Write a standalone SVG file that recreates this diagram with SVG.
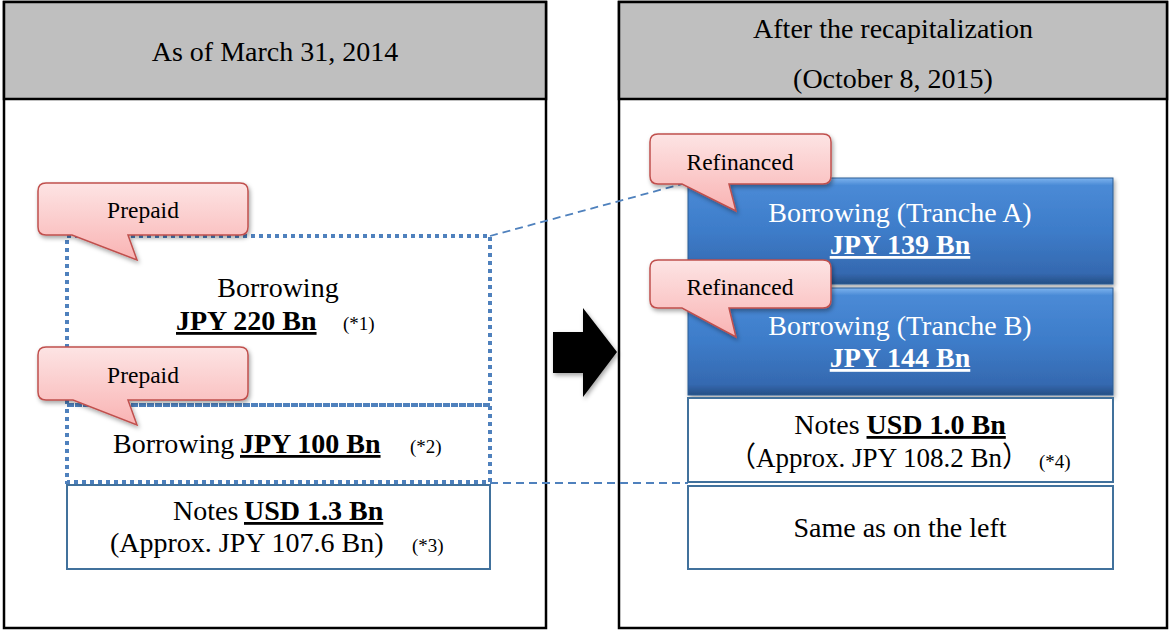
<svg xmlns="http://www.w3.org/2000/svg" width="1169" height="630" viewBox="0 0 1169 630">
<style>
.t{font-family:"Liberation Serif","Times New Roman",serif;font-size:28px;fill:#000}
.w{fill:#fff}
.b{font-weight:bold;text-decoration:underline}
.s{font-size:19px}
.c{font-family:"Liberation Serif","Times New Roman",serif;font-size:23.5px;fill:#000}
.panel{fill:#fff;stroke:#000;stroke-width:2.5}
.hdr{fill:#bfbfbf;stroke:#000;stroke-width:2.5}
.dot{fill:none;stroke:#4f81bd;stroke-width:4;stroke-dasharray:4 4}
.conn{fill:none;stroke:#4f81bd;stroke-width:1.8;stroke-dasharray:8 5}
.box{fill:#fff;stroke:#41719c;stroke-width:2}
.blue{fill:url(#bg);stroke:#2c5d93;stroke-width:1}
.call{fill:url(#pg);stroke:#c0504d;stroke-width:1.5;filter:url(#sh)}
</style>
<defs>
<linearGradient id="bg" x1="0" y1="0" x2="0" y2="1">
<stop offset="0" stop-color="#7db3ee"/>
<stop offset="0.07" stop-color="#4a8ad6"/>
<stop offset="0.5" stop-color="#3d7cc9"/>
<stop offset="0.9" stop-color="#3569b0"/>
<stop offset="1" stop-color="#254f85"/>
</linearGradient>
<linearGradient id="pg" x1="0" y1="0" x2="0" y2="1">
<stop offset="0" stop-color="#fde4e4"/>
<stop offset="1" stop-color="#f9b3b3"/>
</linearGradient>
<filter id="sh" x="-20%" y="-20%" width="140%" height="150%">
<feDropShadow dx="1.5" dy="2.5" stdDeviation="2" flood-color="#000" flood-opacity="0.35"/>
</filter>
</defs>

<g id="panel-left">
<rect class="panel" x="4" y="2" width="542" height="626"/>
<rect class="hdr" x="4" y="2" width="542" height="97"/>
<text class="t" x="275" y="61" text-anchor="middle">As of March 31, 2014</text>
</g>

<g id="panel-right">
<rect class="panel" x="619" y="2" width="548" height="626"/>
<rect class="hdr" x="619" y="2" width="548" height="97"/>
<text class="t" x="893" y="38" text-anchor="middle">After the recapitalization</text>
<text class="t" x="893" y="88" text-anchor="middle">(October 8, 2015)</text>
</g>

<g id="connectors">
<line class="conn" x1="490" y1="236" x2="682" y2="184"/>
<line class="conn" x1="490" y1="483" x2="688" y2="483"/>
</g>

<g id="borrowing-220">
<rect class="dot" x="67" y="236" width="423" height="169"/>
<text class="t" x="278" y="297" text-anchor="middle">Borrowing</text>
<text class="t b" x="176" y="330">JPY 220 Bn</text>
<text class="t s" x="343" y="330">(*1)</text>
</g>

<g id="borrowing-100">
<rect class="dot" x="67" y="405" width="423" height="77"/>
<text class="t" x="113" y="453">Borrowing</text>
<text class="t b" x="240" y="453">JPY 100 Bn</text>
<text class="t s" x="410" y="453">(*2)</text>
</g>

<g id="notes-left">
<rect class="box" x="67" y="485" width="423" height="84"/>
<text class="t" x="173" y="520">Notes</text>
<text class="t b" x="244" y="520">USD 1.3 Bn</text>
<text class="t" x="110" y="552">(Approx. JPY 107.6 Bn)</text>
<text class="t s" x="412" y="552">(*3)</text>
</g>

<g id="callout-prepaid-1">
<path class="call" d="M46,183 H240 Q248,183 248,191 V227 Q248,235 240,235 H128 L137,260 L72,235 H46 Q38,235 38,227 V191 Q38,183 46,183 Z"/>
<text class="c" x="143" y="218" text-anchor="middle">Prepaid</text>
</g>

<g id="callout-prepaid-2">
<path class="call" d="M46,347 H240 Q248,347 248,355 V392 Q248,400 240,400 H128 L137,425 L73,400 H46 Q38,400 38,392 V355 Q38,347 46,347 Z"/>
<text class="c" x="143" y="383" text-anchor="middle">Prepaid</text>
</g>

<g id="arrow">
<polygon points="553,332 583,332 583,308 617,352 583,397 583,373 553,373" fill="#000" filter="url(#sh)"/>
</g>

<g id="tranche-a">
<rect class="blue" x="688" y="178" width="425" height="106" filter="url(#sh)"/>
<text class="t w" x="900" y="222" text-anchor="middle">Borrowing (Tranche A)</text>
<text class="t w b" x="900" y="254" text-anchor="middle">JPY 139 Bn</text>
</g>

<g id="tranche-b">
<rect class="blue" x="688" y="288" width="425" height="107" filter="url(#sh)"/>
<text class="t w" x="900" y="335" text-anchor="middle">Borrowing (Tranche B)</text>
<text class="t w b" x="900" y="367" text-anchor="middle">JPY 144 Bn</text>
</g>

<g id="notes-right">
<rect class="box" x="688" y="398" width="425" height="84"/>
<text class="t" x="900" y="434" text-anchor="middle">Notes <tspan class="b">USD 1.0 Bn</tspan></text>
<text class="t" x="729" y="467" textLength="300" lengthAdjust="spacingAndGlyphs" style="font-family:'Liberation Serif','Noto Sans CJK JP',serif">（Approx. JPY 108.2 Bn）</text>
<text class="t s" x="1039" y="468">(*4)</text>
</g>

<g id="same-as-left">
<rect class="box" x="688" y="486" width="425" height="83"/>
<text class="t" x="900" y="537" text-anchor="middle">Same as on the left</text>
</g>

<g id="callout-refinanced-1">
<path class="call" d="M658,134 H823 Q831,134 831,142 V176 Q831,184 823,184 H729 L736,211 L682,184 H658 Q650,184 650,176 V142 Q650,134 658,134 Z"/>
<text class="c" x="740" y="170" text-anchor="middle">Refinanced</text>
</g>

<g id="callout-refinanced-2">
<path class="call" d="M658,260 H823 Q831,260 831,268 V300 Q831,308 823,308 H729 L736,337 L682,308 H658 Q650,308 650,300 V268 Q650,260 658,260 Z"/>
<text class="c" x="740" y="295" text-anchor="middle">Refinanced</text>
</g>
</svg>
